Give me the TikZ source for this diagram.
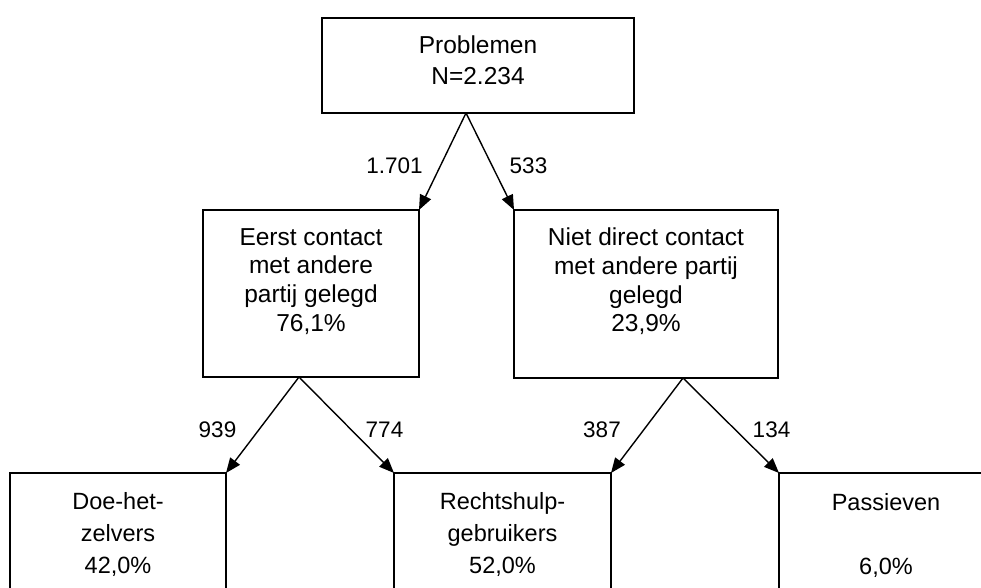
\documentclass[tikz,border=0pt]{standalone}
\usepackage{fontspec}
\setmainfont{Liberation Sans}
\usetikzlibrary{arrows.meta}
\begin{document}
\begin{tikzpicture}[x=1pt,y=-1pt,
  boxnode/.style={draw=black,line width=1.8pt,inner sep=0pt,outer sep=0pt,rectangle},
  txtA/.style={inner sep=0pt,align=center,anchor=north,font=\fontsize{24.5}{31}\selectfont},
  txtB/.style={inner sep=0pt,align=center,anchor=north,font=\fontsize{24.5}{28.8}\selectfont},
  txtC/.style={inner sep=0pt,align=center,anchor=north,font=\fontsize{23.5}{32}\selectfont},
  lbl/.style={inner sep=0pt,anchor=base,font=\fontsize{22.5}{26}\selectfont},
  conn/.style={line width=1.4pt,-{Triangle[length=15pt,width=12pt]}}]
\useasboundingbox[fill=white] (0,0) rectangle (981,588);
% boxes
\node[boxnode,minimum width=312pt,minimum height=95pt] (top) at (478,65.5) {};
\node[boxnode,minimum width=216pt,minimum height=167pt] (ml) at (311,293.5) {};
\node[boxnode,minimum width=264pt,minimum height=168pt] (mr) at (646,294) {};
\node[boxnode,minimum width=216pt,minimum height=177pt] (b1) at (118,561.5) {};
\node[boxnode,minimum width=217pt,minimum height=177pt] (b2) at (502.5,561.5) {};
\node[boxnode,minimum width=216pt,minimum height=177pt] (b3) at (887,561.5) {};
% texts
\node[txtA] (ttop) at (478,35.5) {Problemen\\N=2.234};
\node[txtB] (tml) at (311,228) {Eerst contact\\met andere\\partij gelegd\\76,1\%};
\node[txtB] (tmr) at (646,227.5) {Niet direct contact\\met andere partij\\gelegd\\23,9\%};
\node[txtC] (tb1) at (118,492.5) {Doe-het-\\zelvers\\42,0\%};
\node[txtC] (tb2) at (502.5,492.5) {Rechtshulp-\\gebruikers\\52,0\%};
\node[txtC] (tb3) at (886,493) {Passieven\\\mbox{}\\6,0\%};
% connectors
\draw[conn] ([xshift=-12pt]top.south) -- (ml.north east);
\draw[conn] ([xshift=-12pt]top.south) -- (mr.north west);
\draw[conn] ([xshift=-12pt]ml.south) -- (b1.north east);
\draw[conn] ([xshift=-12pt]ml.south) -- (b2.north west);
\draw[conn] ([xshift=37pt]mr.south) -- (b2.north east);
\draw[conn] ([xshift=37pt]mr.south) -- (b3.north west);
% labels
\node[lbl] (l1) at (394.5,173) {1.701};
\node[lbl] (l2) at (528.5,173) {533};
\node[lbl] (l3) at (217.5,437) {939};
\node[lbl] (l4) at (384.5,437) {774};
\node[lbl] (l5) at (602,437) {387};
\node[lbl] (l6) at (771.5,437) {134};
\end{tikzpicture}
\end{document}
